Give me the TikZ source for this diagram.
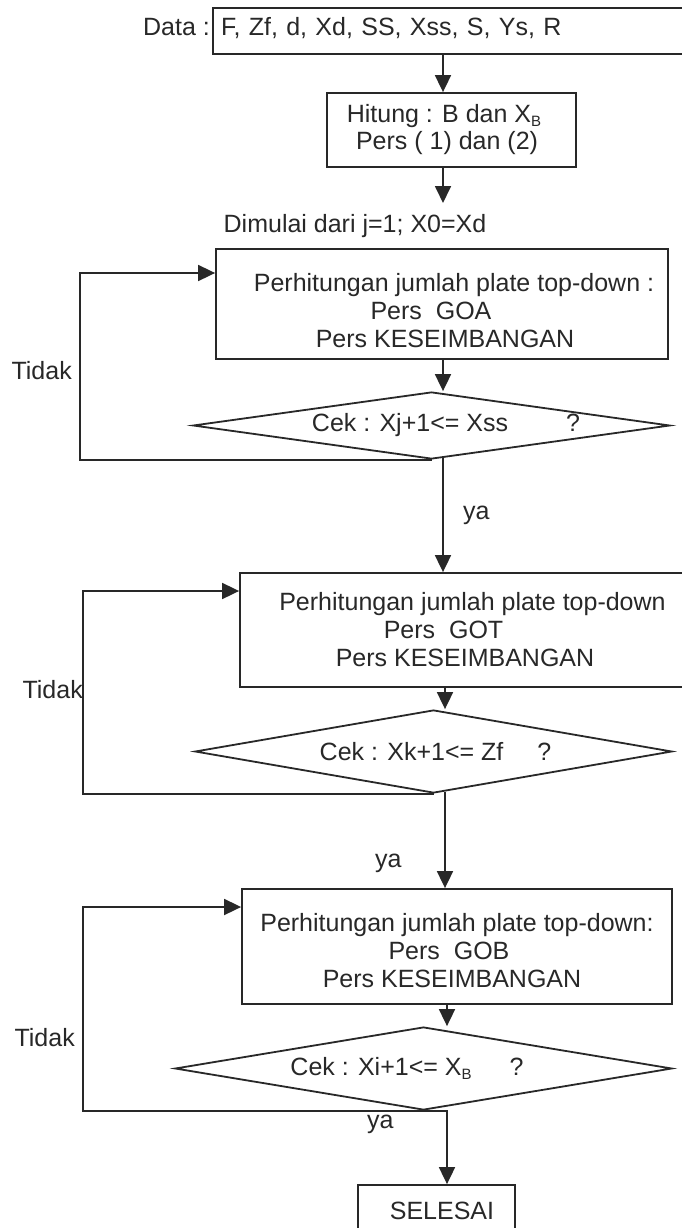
\documentclass[tikz,border=0pt]{standalone}
\usepackage{fontspec}
\setmainfont{Liberation Sans}
\usetikzlibrary{arrows.meta,shapes.geometric,calc}
\definecolor{ink}{RGB}{40,40,40}
\newcommand\padw[1]{\rule{#1}{0pt}}
\newcommand\subB{\raisebox{-4pt}{\fontsize{15pt}{15pt}\selectfont B}}
\begin{document}
\begin{tikzpicture}[x=1pt,y=-1pt,font=\fontsize{25pt}{28pt}\selectfont]
\tikzset{
  ln/.style={draw=ink, line width=1.8pt},
  box/.style={rectangle, ln, inner sep=0pt, align=center, text=ink},
  dec/.style={diamond, ln, inner sep=0pt, text=ink},
  lbl/.style={inner sep=0pt, text=ink},
  arr/.style={ln, -{Triangle[length=17pt,width=16pt]}},
}
\fill[white] (0,0) rectangle (682,1228);
\useasboundingbox (0,0) rectangle (682,1228);

% axes for the vertical connectors
\coordinate (ax1) at (443,0);
\coordinate (ax2) at (445,0);
\coordinate (ax3) at (447,0);

% nodes
\node[box, align=left, text width=454pt, inner xsep=8pt, minimum width=470pt,
      minimum height=46pt, text height=18.2pt, text depth=9.7pt] (data) at (448,31)
      {F, Zf, d, Xd, SS, Xss, S, Ys, R};
\node[lbl, anchor=base east] (datalbl) at (210,36) {Data :};

\node[box, minimum width=249pt, minimum height=74pt] (hit) at (451.5,130)
      {Hitung : B dan X\subB\padw{15pt}\\[-1pt]Pers ( 1) dan (2)\padw{9pt}};

\node[lbl, anchor=base] (dim) at (355,232) {Dimulai dari j=1; X0=Xd};
\coordinate (c0) at (443,203);

\node[box, minimum width=452pt, minimum height=110pt] (b1) at (442,304)
      {\rule{0pt}{32pt}\padw{24pt}Perhitungan jumlah plate top-down :\\Pers\ \ GOA\padw{22pt}\\\padw{6pt}Pers KESEIMBANGAN};
\node[dec, aspect=7.1, minimum width=477pt, minimum height=67pt] (d1) at (431.5,425.5)
      {\padw{29pt}Cek : Xj+1<= Xss\hspace{58pt}?};

\node[box, minimum width=443pt, minimum height=114pt] (b2) at (461.5,630)
      {\padw{22pt}Perhitungan jumlah plate top-down\\Pers\ \ GOT\padw{36pt}\\\padw{7pt}Pers KESEIMBANGAN};
\node[dec, aspect=5.75, minimum width=477pt, minimum height=83pt] (d2) at (433.5,751.5)
      {\padw{4pt}Cek : Xk+1<= Zf\hspace{34pt}?};

\node[box, minimum width=430pt, minimum height=115pt] (b3) at (457,946.5)
      {\rule{0pt}{25.3pt}Perhitungan jumlah plate top-down:\\Pers\ \ GOB\padw{16pt}\\Pers KESEIMBANGAN\padw{10pt}};
\node[dec, aspect=6, minimum width=497pt, minimum height=83pt] (d3) at (423.5,1068.5)
      {Cek : Xi+1<= X\subB\hspace{38pt}?\padw{33pt}};

\node[box, minimum width=157pt, minimum height=51pt] (sel) at (436.5,1210.5)
      {\padw{11pt}SELESAI};

% labels
\node[lbl, anchor=base east] (tidak1) at (72,379) {Tidak};
\node[lbl, anchor=base east] (tidak2) at (83,698) {Tidak};
\node[lbl, anchor=base east] (tidak3) at (75,1046) {Tidak};
\node[lbl, anchor=base west] (ya1) at (463,519) {ya};
\node[lbl, anchor=base west] (ya2) at (375,867) {ya};
\node[lbl, anchor=base west] (ya3) at (367,1128) {ya};

% main flow
\draw[arr] (data.south -| ax1) -- (hit.north -| ax1);
\draw[arr] (hit.south -| ax1) -- (c0);
\draw[arr] (b1.south -| ax1) -- (d1.north -| ax1);
\draw[arr, shorten <=-2pt] (d1.south -| ax1) -- (b2.north -| ax1);
\draw[arr] (b2.south -| ax2) -- (d2.north -| ax2);
\draw[arr, shorten <=-2pt] (d2.south -| ax2) -- (b3.north -| ax2);
\draw[arr] (b3.south -| ax3) -- (d3.north -| ax3);
\draw[arr] (d3.south) -| (sel.north -| ax3);

% loops (Tidak)
\coordinate (l1) at (80,273);
\coordinate (l2) at (83,591);
\coordinate (l3) at (83,907);
\draw[arr] (d1.south) -| (l1) -- (l1 -| b1.west);
\draw[arr] (d2.south) -| (l2) -- (l2 -| b2.west);
\draw[arr] (d3.south) -| (l3) -- (l3 -| b3.west);
\end{tikzpicture}
\end{document}
